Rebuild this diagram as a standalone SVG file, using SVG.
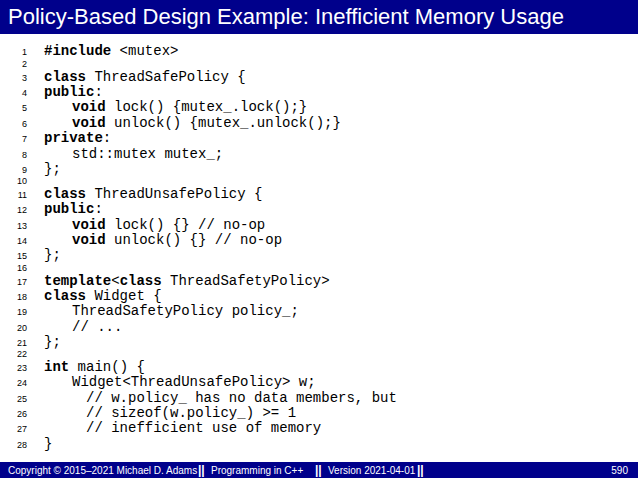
<svg xmlns="http://www.w3.org/2000/svg" width="638" height="478" viewBox="0 0 638 478">
<style>
.n{font-family:"Liberation Sans",sans-serif;font-size:9px;fill:#000}
.c{font-family:"Liberation Mono",monospace;font-size:14px;fill:#000;white-space:pre}
.k{font-weight:bold}
.f{font-family:"Liberation Sans",sans-serif;font-size:10px;fill:#fff}
</style>
<rect width="638" height="478" fill="#fff"/>
<rect x="0" y="0" width="638" height="34" fill="#00008b"/>
<text x="8" y="24" font-family="Liberation Sans,sans-serif" font-size="22" fill="#fff">Policy-Based Design Example: Inefficient Memory Usage</text>
<g class="n" text-anchor="end">
<text x="27" y="55">1</text><text x="27" y="67">2</text><text x="27" y="81">3</text><text x="27" y="96">4</text><text x="27" y="111">5</text><text x="27" y="127">6</text><text x="27" y="142">7</text><text x="27" y="158">8</text><text x="27" y="173">9</text><text x="27" y="184">10</text><text x="27" y="198">11</text><text x="27" y="213">12</text><text x="27" y="229">13</text><text x="27" y="244">14</text><text x="27" y="259">15</text><text x="27" y="271">16</text><text x="27" y="285">17</text><text x="27" y="300">18</text><text x="27" y="315">19</text><text x="27" y="331">20</text><text x="27" y="346">21</text><text x="27" y="357">22</text><text x="27" y="371">23</text><text x="27" y="386">24</text><text x="27" y="402">25</text><text x="27" y="417">26</text><text x="27" y="432">27</text><text x="27" y="448">28</text>
</g>
<g class="c">
<text x="44" y="55"><tspan class="k">#include</tspan> &lt;mutex&gt;</text>
<text x="44" y="81"><tspan class="k">class</tspan> ThreadSafePolicy {</text>
<text x="44" y="96"><tspan class="k">public</tspan>:</text>
<text x="72" y="111"><tspan class="k">void</tspan> lock() {mutex_.lock();}</text>
<text x="72" y="127"><tspan class="k">void</tspan> unlock() {mutex_.unlock();}</text>
<text x="44" y="142"><tspan class="k">private</tspan>:</text>
<text x="72" y="158">std::mutex mutex_;</text>
<text x="44" y="173">};</text>
<text x="44" y="198"><tspan class="k">class</tspan> ThreadUnsafePolicy {</text>
<text x="44" y="213"><tspan class="k">public</tspan>:</text>
<text x="72" y="229"><tspan class="k">void</tspan> lock() {} // no-op</text>
<text x="72" y="244"><tspan class="k">void</tspan> unlock() {} // no-op</text>
<text x="44" y="259">};</text>
<text x="44" y="285"><tspan class="k">template</tspan>&lt;<tspan class="k">class</tspan> ThreadSafetyPolicy&gt;</text>
<text x="44" y="300"><tspan class="k">class</tspan> Widget {</text>
<text x="72" y="315">ThreadSafetyPolicy policy_;</text>
<text x="72" y="331">// ...</text>
<text x="44" y="346">};</text>
<text x="44" y="371"><tspan class="k">int</tspan> main() {</text>
<text x="72" y="386">Widget&lt;ThreadUnsafePolicy&gt; w;</text>
<text x="86" y="402">// w.policy_ has no data members, but</text>
<text x="86" y="417">// sizeof(w.policy_) &gt;= 1</text>
<text x="86" y="432">// inefficient use of memory</text>
<text x="44" y="448">}</text>
</g>
<rect x="0" y="462" width="638" height="16" fill="#00008b"/>
<g class="f">
<text x="8" y="474">Copyright © 2015–2021 Michael D. Adams</text>
<text x="198" y="474" font-weight="bold" font-size="12">||</text>
<text x="211" y="474">Programming in C++</text>
<text x="315" y="474" font-weight="bold" font-size="12">||</text>
<text x="328" y="474">Version 2021-04-01</text>
<text x="417" y="474" font-weight="bold" font-size="12">||</text>
<text x="628" y="474" text-anchor="end">590</text>
</g>
</svg>
